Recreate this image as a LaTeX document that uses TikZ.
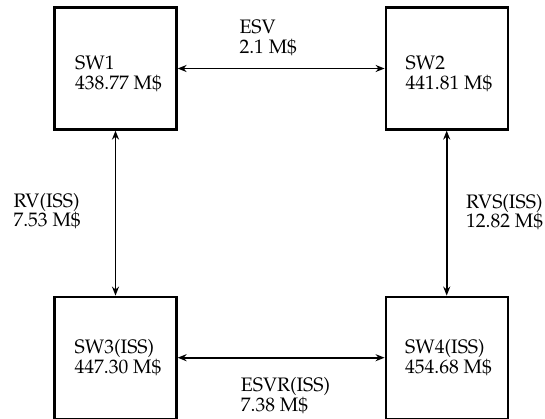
\documentclass[tikz,border=0pt]{standalone}
\usepackage[T1]{fontenc}
\usepackage{mathpazo}
\usetikzlibrary{arrows.meta}
\tikzset{
  boxnode/.style={draw, line width=2.2pt, rectangle, minimum width=122pt, minimum height=122pt, inner sep=0pt},
  txt/.style={anchor=base west, inner sep=0pt, font=\fontsize{19.5}{20}\selectfont},
  link/.style={line width=1.8pt, {Stealth[length=9pt,width=7pt]}-{Stealth[length=9pt,width=7pt]}}
}
\begin{document}
\begin{tikzpicture}[x=1pt,y=-1pt]
\useasboundingbox (0,0) rectangle (545,419);
\node[boxnode] (sw1) at (115.5,68.5) {};
\node[boxnode] (sw2) at (446.7,68.5) {};
\node[boxnode] (sw3) at (115.5,357.7) {};
\node[boxnode] (sw4) at (446.7,357.7) {};
\draw[link] (sw1) -- (sw2);
\draw[link] (sw3) -- (sw4);
\draw[link] (sw1) -- (sw3);
\draw[link] (sw2) -- (sw4);
\node[txt] (t1a) at (75,69.5) {SW1};
\node[txt] (t1b) at (75,90) {438.77 M\$};
\node[txt] (t2a) at (405.5,69.5) {SW2};
\node[txt] (t2b) at (405.5,90) {441.81 M\$};
\node[txt] (t3a) at (74.5,353) {SW3(ISS)};
\node[txt] (t3b) at (74.5,373.5) {447.30 M\$};
\node[txt] (t4a) at (405,353) {SW4(ISS)};
\node[txt] (t4b) at (405,373.5) {454.68 M\$};
\node[txt] (l1a) at (239.3,34) {ESV};
\node[txt] (l1b) at (239.3,53.5) {2.1 M\$};
\node[txt] (l2a) at (13.3,208) {RV(ISS)};
\node[txt] (l2b) at (13.3,227) {7.53 M\$};
\node[txt] (l3a) at (466,208.3) {RVS(ISS)};
\node[txt] (l3b) at (466,227.7) {12.82 M\$};
\node[txt] (l4a) at (240.7,391.7) {ESVR(ISS)};
\node[txt] (l4b) at (240.7,411) {7.38 M\$};
\end{tikzpicture}
\end{document}
